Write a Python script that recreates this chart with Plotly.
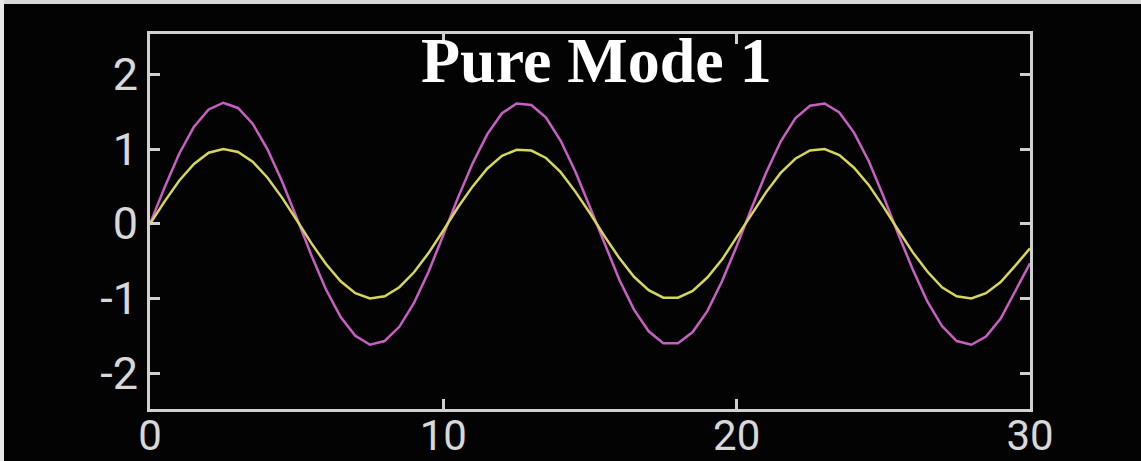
import plotly.graph_objects as go

# Data
t = [i * 0.5 for i in range(61)]  # time axis samples 0 .. 30
mass_1 = [0.00, 0.30, 0.58, 0.80, 0.95, 1.00, 0.96, 0.83, 0.62, 0.35,
          0.05, -0.26, -0.54, -0.77, -0.93, -1.00, -0.97, -0.85, -0.65, -0.39,
          -0.09, 0.22, 0.50, 0.74, 0.91, 0.99, 0.98, 0.88, 0.69, 0.43,
          0.14, -0.17, -0.46, -0.71, -0.89, -0.99, -0.99, -0.90, -0.72, -0.48,
          -0.18, 0.12, 0.42, 0.68, 0.87, 0.98, 1.00, 0.92, 0.75, 0.52,
          0.23, -0.08, -0.38, -0.64, -0.85, -0.97, -1.00, -0.93, -0.78, -0.56,
          -0.33]
mass_2 = [0.00, 0.49, 0.94, 1.30, 1.53, 1.62, 1.55, 1.34, 1.00, 0.57,
          0.08, -0.42, -0.88, -1.25, -1.50, -1.62, -1.57, -1.38, -1.06, -0.64,
          -0.15, 0.35, 0.81, 1.20, 1.48, 1.61, 1.59, 1.42, 1.11, 0.70,
          0.22, -0.27, -0.75, -1.15, -1.44, -1.60, -1.60, -1.45, -1.17, -0.77,
          -0.30, 0.20, 0.68, 1.10, 1.41, 1.58, 1.61, 1.49, 1.22, 0.84,
          0.37, -0.13, -0.61, -1.04, -1.37, -1.57, -1.62, -1.51, -1.27, -0.90,
          -0.53]
x_ticks = [0, 10, 20, 30]
y_ticks = [-2, -1, 0, 1, 2]
title_text = "Pure Mode 1"

W, H = 1141, 461
L, R, T, B = 150, 111, 34, 52
pw, ph = W - L - R, H - T - B

def px(xp):
    return (xp - L) / pw

def py(yp):
    return (H - B - yp) / ph

fig = go.Figure()
fig.add_trace(go.Scatter(x=t, y=mass_2, mode="lines",
                         line=dict(color="#c95fc4", width=2.5), showlegend=False))
fig.add_trace(go.Scatter(x=t, y=mass_1, mode="lines",
                         line=dict(color="#d6d65a", width=2.5), showlegend=False))

axis_common = dict(showgrid=False, zeroline=False, showline=True, mirror="ticks",
                   linecolor="#d0d0d0", linewidth=3, ticks="inside", ticklen=10,
                   tickwidth=3, tickcolor="#d0d0d0", automargin=False)
font_family = "Liberation Sans Narrow, Roboto, Liberation Sans, sans-serif"

fig.update_xaxes(range=[0, 30], tickvals=x_ticks, ticktext=[str(v) for v in x_ticks],
                 ticklabelstandoff=-12,
                 tickfont=dict(family=font_family, size=42, color="#d8d8d8"),
                 **axis_common)
fig.update_yaxes(range=[-2.48, 2.54], tickvals=y_ticks, ticktext=[str(v) for v in y_ticks],
                 ticklabelstandoff=0,
                 tickfont=dict(family=font_family, size=45, color="#d8d8d8"),
                 **axis_common)

fig.add_annotation(text=title_text, x=px(596), y=py(61), xref="paper", yref="paper",
                   xanchor="center", yanchor="middle", showarrow=False,
                   font=dict(family="Liberation Serif, Times New Roman, serif",
                             size=64, color="white", weight="bold"))

# thin light frame at the top and left edges of the picture
fig.add_shape(type="rect", xref="paper", yref="paper", x0=px(0), x1=px(W), y0=py(4), y1=py(0),
              fillcolor="#d8d8d8", line_width=0, layer="above")
fig.add_shape(type="rect", xref="paper", yref="paper", x0=px(0), x1=px(4), y0=py(H), y1=py(0),
              fillcolor="#e8e8e8", line_width=0, layer="above")

fig.update_layout(width=W, height=H, margin=dict(l=L, r=R, t=T, b=B),
                  paper_bgcolor="#030303", plot_bgcolor="#030303")

fig.write_html("out.html", config={"displayModeBar": False},
               post_script="document.body.style.margin='0px';document.body.style.overflow='hidden';")
